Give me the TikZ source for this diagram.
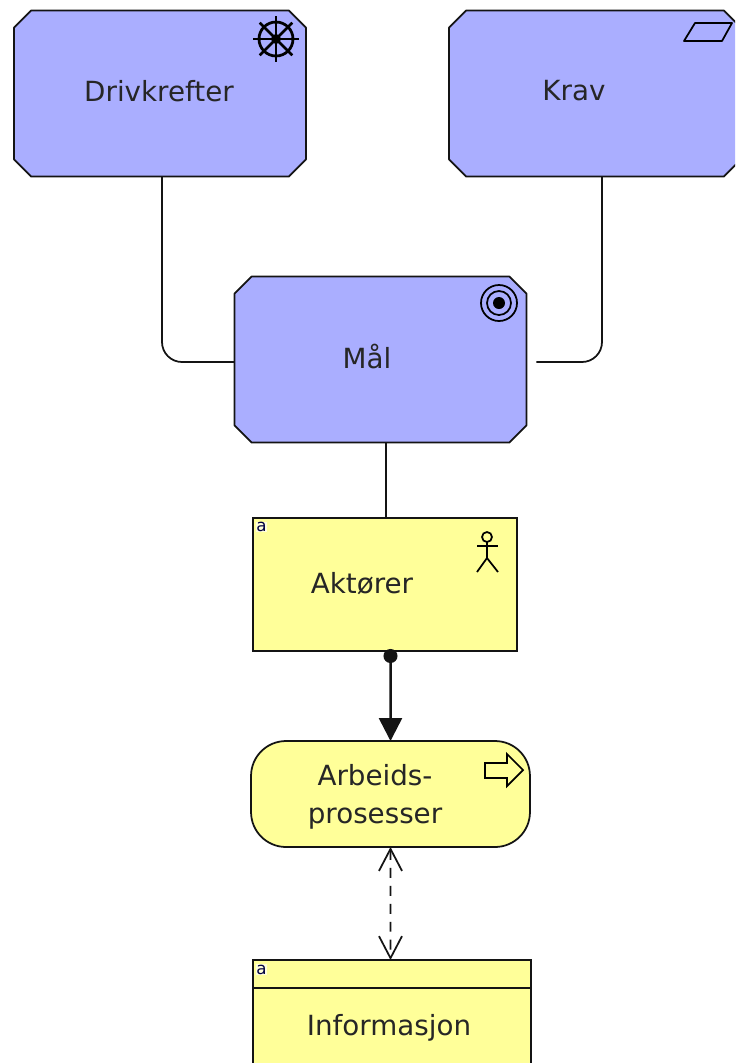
\documentclass[tikz,border=0pt]{standalone}
\usepackage{fontspec}
\setmainfont{DejaVu Sans}
\usetikzlibrary{arrows.meta}
\definecolor{motiv}{RGB}{170,174,255}
\definecolor{aktiv}{RGB}{255,255,153}
\definecolor{strek}{RGB}{20,20,20}
\tikzset{
  >/.tip={Triangle[length=.46cm,width=.46cm]},
  boks/.style={draw=strek,line width=.035cm,outer sep=0pt,inner sep=0pt},
  motivboks/.style={outer sep=0pt,inner sep=0pt,minimum width=5.84cm,minimum height=3.32cm},
  gulboks/.style={boks,fill=aktiv},
  tekst/.style={font=\fontsize{15.8}{21.5}\selectfont,align=center,text=black!85,inner sep=0pt},
  merke/.style={font=\fontsize{9.5}{10}\selectfont,text=blue!25!black,inner sep=.3pt,fill=aktiv!35},
  ikon/.style={draw=black,line width=.035cm},
  linje/.style={draw=strek,line width=.035cm},
}
\newcommand{\kutt}[1]{\draw[boks,fill=motiv,line join=round]
  ([xshift=.34cm]#1.north west) -- ([xshift=-.34cm]#1.north east) -- ([yshift=-.34cm]#1.north east)
  -- ([yshift=.34cm]#1.south east) -- ([xshift=-.34cm]#1.south east) -- ([xshift=.34cm]#1.south west)
  -- ([yshift=.34cm]#1.south west) -- ([yshift=-.34cm]#1.north west) -- cycle;}

\begin{document}
\begin{tikzpicture}[x=.02cm,y=-.02cm]
\useasboundingbox (0,0) rectangle (735,1063);
\clip (0,0) rectangle (735,1063);
\fill[white] (0,0) rectangle (735,1063);

\node[motivboks] (drivkrefter) at (160,93.5) {};
\node[motivboks] (krav) at (595,93.5) {};
\node[motivboks] (maal) at (380.5,359.5) {};
\kutt{drivkrefter}
\kutt{krav}
\kutt{maal}
\node[gulboks,minimum width=5.28cm,minimum height=2.66cm] (aktorer) at (385,584.5) {};
\node[gulboks,rounded corners=.7cm,minimum width=5.58cm,minimum height=2.12cm] (arbeid) at (390.5,794) {};
\node[gulboks,minimum width=5.56cm,minimum height=3cm] (info) at (392,1035) {};

\node[tekst] (drivkrefterT) at (159,91) {Drivkrefter};
\node[tekst] (kravT) at (574,91) {Krav};
\node[tekst] (maalT) at (367,356) {Mål};
\node[tekst] (aktorerT) at (362,584) {Aktører};
\node[tekst] (arbeidT) at (375,797) {Arbeids-\\prosesser};
\node[tekst] (infoT) at (389,1028) {Informasjon};
\node[merke] (aktorerM) at (261.5,527) {a};
\node[merke] (infoM) at (261.5,969.5) {a};

\draw[boks] ([yshift=-.56cm]info.north west) -- ([yshift=-.56cm]info.north east);

\draw[linje,rounded corners=.4cm] ([xshift=.04cm]drivkrefter.south) |- ([yshift=-.05cm]maal.west);
\draw[linje,rounded corners=.4cm,shorten >=.2cm] ([xshift=.14cm]krav.south) |- ([yshift=-.05cm]maal.east);
\draw[linje] ([xshift=.11cm]maal.south) -- ([xshift=.02cm]aktorer.north);
\draw[linje,line width=.05cm,{Circle[length=.28cm]}->] ([xshift=.11cm,yshift=.04cm]aktorer.south) -- (arbeid.north);
\draw[linje,dash pattern=on .2cm off .16cm,{Straight Barb[length=.44cm,width=.46cm]}-{Straight Barb[length=.44cm,width=.46cm]}] (arbeid.south) -- ([xshift=-.03cm]info.north);

\draw[ikon,line width=.055cm] (276,39) circle (17);
\fill (276,39) circle (5);
\foreach \vinkel in {0,45,...,315}
  \draw[ikon,line width=.05cm] (276,39) -- ++(\vinkel:23);

\draw[ikon,line join=round] (695,23) -- (732,23) -- (722,41) -- (684,41) -- cycle;

\draw[ikon] (499,303) circle (18);
\draw[ikon] (499,303) circle (12);
\fill (499,303) circle (6);

\draw[ikon] (487,537) circle (5);
\draw[ikon] (487,542) -- (487,558) -- (477,572);
\draw[ikon] (487,558) -- (498,572);
\draw[ikon] (477,546) -- (498,546);

\draw[ikon,line join=miter] (485,763) -- (507,763) -- (507,754) -- (523,770) -- (507,786) -- (507,778) -- (485,778) -- cycle;
\end{tikzpicture}
\end{document}
